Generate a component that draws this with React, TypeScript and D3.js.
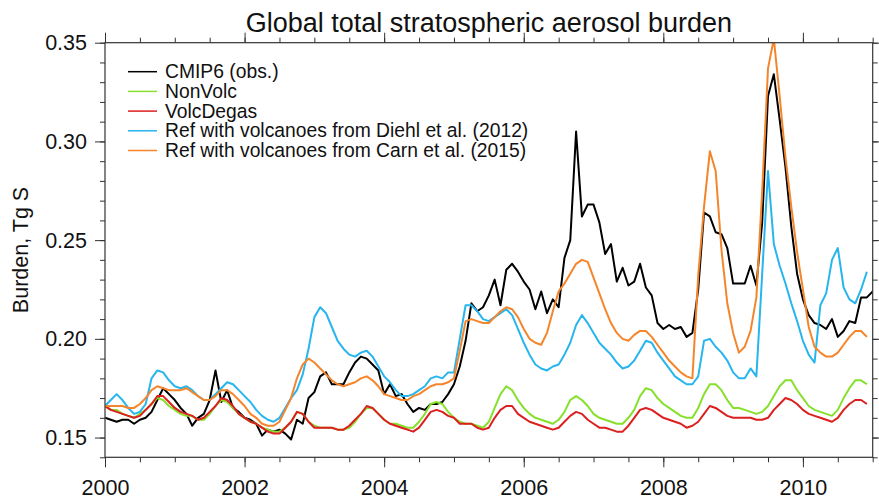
import React, { useEffect, useRef } from 'react';
import * as d3 from 'd3';

// monthly values, Jan 2000 onwards (Tg S)
const cmip6 = [
	0.160, 0.159, 0.158, 0.159, 0.159, 0.157, 0.159, 0.160, 0.163, 0.169, 0.175, 0.172,
	0.169, 0.165, 0.162, 0.156, 0.160, 0.162, 0.169, 0.184, 0.168, 0.174, 0.165, 0.163,
	0.160, 0.159, 0.157, 0.151, 0.154, 0.153, 0.154, 0.152, 0.149, 0.159, 0.157, 0.170,
	0.173, 0.181, 0.183, 0.177, 0.177, 0.177, 0.183, 0.188, 0.191, 0.190, 0.187, 0.184,
	0.172, 0.177, 0.171, 0.172, 0.167, 0.163, 0.165, 0.164, 0.167, 0.167, 0.168, 0.172,
	0.177, 0.186, 0.199, 0.218, 0.214, 0.216, 0.222, 0.230, 0.217, 0.235, 0.238, 0.234,
	0.229, 0.225, 0.215, 0.224, 0.213, 0.220, 0.216, 0.241, 0.250, 0.305, 0.262, 0.268,
	0.268, 0.259, 0.243, 0.248, 0.229, 0.236, 0.227, 0.229, 0.238, 0.226, 0.222, 0.208,
	0.205, 0.207, 0.205, 0.206, 0.201, 0.203, 0.225, 0.264, 0.262, 0.254, 0.253, 0.246,
	0.228, 0.228, 0.228, 0.237, 0.227, 0.259, 0.323, 0.334, 0.311, 0.287, 0.257, 0.233,
	0.220, 0.212, 0.208, 0.207, 0.205, 0.210, 0.201, 0.204, 0.209, 0.208, 0.221, 0.221,
	0.224,
];

const nonVolc = [
	0.166, 0.164, 0.164, 0.162, 0.161, 0.160, 0.162, 0.164, 0.167, 0.170, 0.169, 0.166,
	0.164, 0.162, 0.161, 0.161, 0.159, 0.159, 0.162, 0.166, 0.169, 0.168, 0.165, 0.162,
	0.160, 0.158, 0.157, 0.155, 0.154, 0.153, 0.153, 0.155, 0.158, 0.163, 0.162, 0.158,
	0.156, 0.155, 0.155, 0.155, 0.154, 0.154, 0.155, 0.158, 0.162, 0.165, 0.165, 0.162,
	0.159, 0.157, 0.157, 0.156, 0.155, 0.155, 0.158, 0.162, 0.167, 0.168, 0.167, 0.163,
	0.160, 0.158, 0.157, 0.157, 0.156, 0.155, 0.158, 0.165, 0.172, 0.176, 0.174, 0.169,
	0.165, 0.162, 0.160, 0.159, 0.158, 0.157, 0.159, 0.163, 0.169, 0.171, 0.169, 0.166,
	0.162, 0.160, 0.159, 0.158, 0.157, 0.157, 0.160, 0.164, 0.171, 0.175, 0.174, 0.170,
	0.167, 0.165, 0.163, 0.161, 0.160, 0.160, 0.165, 0.172, 0.177, 0.177, 0.174, 0.169,
	0.165, 0.165, 0.164, 0.163, 0.162, 0.163, 0.166, 0.171, 0.176, 0.179, 0.179, 0.174,
	0.170, 0.166, 0.164, 0.163, 0.162, 0.161, 0.164, 0.170, 0.175, 0.179, 0.179, 0.177,
];

const volcDegas = [
	0.166, 0.164, 0.163, 0.162, 0.161, 0.160, 0.161, 0.164, 0.167, 0.171, 0.171, 0.168,
	0.165, 0.163, 0.162, 0.161, 0.159, 0.160, 0.163, 0.166, 0.170, 0.169, 0.166, 0.162,
	0.160, 0.158, 0.157, 0.155, 0.153, 0.152, 0.152, 0.155, 0.158, 0.163, 0.162, 0.158,
	0.155, 0.155, 0.155, 0.155, 0.154, 0.154, 0.156, 0.159, 0.162, 0.166, 0.165, 0.162,
	0.159, 0.157, 0.156, 0.155, 0.154, 0.153, 0.155, 0.159, 0.163, 0.164, 0.163, 0.161,
	0.160, 0.157, 0.157, 0.157, 0.155, 0.154, 0.155, 0.160, 0.164, 0.166, 0.166, 0.162,
	0.160, 0.158, 0.157, 0.156, 0.155, 0.154, 0.155, 0.158, 0.161, 0.163, 0.162, 0.159,
	0.157, 0.155, 0.155, 0.154, 0.153, 0.153, 0.156, 0.160, 0.164, 0.165, 0.164, 0.162,
	0.160, 0.159, 0.158, 0.157, 0.155, 0.156, 0.158, 0.162, 0.166, 0.165, 0.163, 0.161,
	0.160, 0.160, 0.160, 0.160, 0.159, 0.159, 0.160, 0.164, 0.167, 0.170, 0.169, 0.167,
	0.164, 0.162, 0.161, 0.160, 0.159, 0.158, 0.160, 0.164, 0.167, 0.169, 0.169, 0.167,
];

const refDiehl = [
	0.166, 0.169, 0.172, 0.169, 0.165, 0.162, 0.163, 0.167, 0.180, 0.184, 0.183, 0.179,
	0.176, 0.175, 0.176, 0.174, 0.171, 0.169, 0.169, 0.172, 0.175, 0.178, 0.177, 0.174,
	0.171, 0.168, 0.164, 0.161, 0.159, 0.158, 0.160, 0.165, 0.170, 0.174, 0.182, 0.195,
	0.211, 0.216, 0.213, 0.206, 0.199, 0.195, 0.192, 0.191, 0.193, 0.194, 0.191, 0.186,
	0.181, 0.178, 0.174, 0.171, 0.171, 0.172, 0.174, 0.176, 0.180, 0.181, 0.180, 0.183,
	0.183, 0.200, 0.217, 0.217, 0.214, 0.210, 0.209, 0.211, 0.213, 0.215, 0.212, 0.205,
	0.198, 0.192, 0.187, 0.185, 0.184, 0.186, 0.187, 0.192, 0.198, 0.207, 0.212, 0.208,
	0.203, 0.198, 0.195, 0.192, 0.188, 0.185, 0.186, 0.189, 0.194, 0.199, 0.198, 0.193,
	0.189, 0.185, 0.181, 0.179, 0.177, 0.177, 0.181, 0.199, 0.200, 0.196, 0.193, 0.189,
	0.183, 0.180, 0.180, 0.185, 0.181, 0.233, 0.285, 0.248, 0.237, 0.228, 0.218, 0.209,
	0.199, 0.192, 0.188, 0.217, 0.223, 0.240, 0.246, 0.226, 0.220, 0.218, 0.225, 0.234,
];

const refCarn = [
	0.166, 0.166, 0.166, 0.166, 0.165, 0.165, 0.167, 0.170, 0.174, 0.176, 0.175, 0.174,
	0.174, 0.174, 0.175, 0.173, 0.171, 0.169, 0.169, 0.171, 0.174, 0.174, 0.172, 0.169,
	0.166, 0.162, 0.160, 0.157, 0.156, 0.156, 0.158, 0.164, 0.170, 0.180, 0.187, 0.190,
	0.188, 0.185, 0.182, 0.179, 0.177, 0.176, 0.177, 0.178, 0.180, 0.181, 0.179, 0.176,
	0.172, 0.171, 0.170, 0.169, 0.169, 0.171, 0.172, 0.174, 0.176, 0.177, 0.177, 0.178,
	0.180, 0.194, 0.209, 0.210, 0.209, 0.208, 0.208, 0.211, 0.214, 0.216, 0.215, 0.211,
	0.205, 0.200, 0.198, 0.197, 0.203, 0.214, 0.224, 0.228, 0.233, 0.238, 0.240, 0.239,
	0.231, 0.223, 0.215, 0.208, 0.203, 0.200, 0.199, 0.202, 0.204, 0.204, 0.201, 0.197,
	0.193, 0.189, 0.186, 0.183, 0.181, 0.180, 0.232, 0.267, 0.295, 0.285, 0.245, 0.218,
	0.203, 0.193, 0.196, 0.204, 0.221, 0.275, 0.337, 0.352, 0.323, 0.292, 0.267, 0.244,
	0.225, 0.206, 0.196, 0.193, 0.191, 0.191, 0.193, 0.197, 0.201, 0.204, 0.204, 0.201,
];

const seriesNames = [
	'CMIP6 (obs.)',
	'NonVolc',
	'VolcDegas',
	'Ref with volcanoes from Diehl et al. (2012)',
	'Ref with volcanoes from Carn et al. (2015)',
];
const seriesColors = ['#000000', '#86e02c', '#dc1f1f', '#27b5ee', '#f5852a'];

const startYear = 2000;
const endYear = 2011;
const yearLabels = [2000, 2002, 2004, 2006, 2008, 2010];
const yLabels = [0.15, 0.2, 0.25, 0.3, 0.35];

const width = 879;
const height = 502;
const font = '"Liberation Sans", Arial, Helvetica, sans-serif';

const App = () => {
	const ref = useRef<SVGSVGElement>(null);

	useEffect(() => {
		if (!ref.current) return;
		const svg = d3.select(ref.current);
		svg.selectAll('*').remove();

		const m = { l: 105, r: 872.7, t: 42.7, b: 457.3 };

		const x = d3.scaleLinear().domain([startYear, endYear]).range([m.l, m.r]);
		const y = d3.scaleLinear().domain([0.14, 0.35]).range([m.b, m.t]);

		const series = [cmip6, nonVolc, volcDegas, refDiehl, refCarn];

		svg.append('defs')
			.append('clipPath')
			.attr('id', 'plotclip')
			.append('rect')
			.attr('x', m.l)
			.attr('y', m.t)
			.attr('width', m.r - m.l)
			.attr('height', m.b - m.t);

		const line = d3
			.line<number>()
			.x((d, i) => x(startYear + i / 12))
			.y(d => y(d));

		svg.append('g')
			.attr('clip-path', 'url(#plotclip)')
			.selectAll('path')
			.data(series)
			.join('path')
			.attr('d', d => line(d))
			.attr('fill', 'none')
			.attr('stroke', (d, i) => seriesColors[i])
			.attr('stroke-width', 2)
			.attr('stroke-linejoin', 'round');

		// axes: major + minor ticks, outward on all four sides
		const minorX = d3.range(startYear, endYear + 0.001, 0.5);
		const minorY = d3.range(0.14, 0.3501, 0.01);
		const axisColor = '#333';

		const styleAxis = (g: any) => {
			g.select('.domain').remove();
			g.selectAll('line').attr('stroke', axisColor).attr('stroke-width', 1);
			g.selectAll('text')
				.attr('fill', '#111')
				.style('font-family', font)
				.style('font-size', '21.5px');
		};

		svg.append('g')
			.attr('transform', `translate(0,${m.b})`)
			.call(d3.axisBottom(x).tickValues(minorX).tickSize(5).tickFormat(() => ''))
			.call(styleAxis);
		svg.append('g')
			.attr('transform', `translate(0,${m.b})`)
			.call(d3.axisBottom(x).tickValues(yearLabels).tickSize(10).tickPadding(12).tickFormat(d3.format('d')))
			.call(styleAxis);
		svg.append('g')
			.attr('transform', `translate(0,${m.t})`)
			.call(d3.axisTop(x).tickValues(minorX).tickSize(5).tickFormat(() => ''))
			.call(styleAxis);
		svg.append('g')
			.attr('transform', `translate(0,${m.t})`)
			.call(d3.axisTop(x).tickValues(yearLabels).tickSize(10).tickFormat(() => ''))
			.call(styleAxis);

		svg.append('g')
			.attr('transform', `translate(${m.l},0)`)
			.call(d3.axisLeft(y).tickValues(minorY).tickSize(5).tickFormat(() => ''))
			.call(styleAxis);
		svg.append('g')
			.attr('transform', `translate(${m.l},0)`)
			.call(d3.axisLeft(y).tickValues(yLabels).tickSize(10).tickPadding(8).tickFormat(d3.format('.2f')))
			.call(styleAxis);
		svg.append('g')
			.attr('transform', `translate(${m.r},0)`)
			.call(d3.axisRight(y).tickValues(minorY).tickSize(5).tickFormat(() => ''))
			.call(styleAxis);
		svg.append('g')
			.attr('transform', `translate(${m.r},0)`)
			.call(d3.axisRight(y).tickValues(yLabels).tickSize(10).tickFormat(() => ''))
			.call(styleAxis);

		svg.append('rect')
			.attr('x', m.l)
			.attr('y', m.t)
			.attr('width', m.r - m.l)
			.attr('height', m.b - m.t)
			.attr('fill', 'none')
			.attr('stroke', axisColor)
			.attr('stroke-width', 1.2);

		// title and y axis title
		svg.append('text')
			.attr('x', (m.l + m.r) / 2)
			.attr('y', 31.5)
			.attr('text-anchor', 'middle')
			.style('font-family', font)
			.style('font-size', '27px')
			.attr('fill', '#111')
			.text('Global total stratospheric aerosol burden');

		svg.append('text')
			.attr('transform', `translate(28,${(m.t + m.b) / 2}) rotate(-90)`)
			.attr('text-anchor', 'middle')
			.style('font-family', font)
			.style('font-size', '21.5px')
			.attr('fill', '#111')
			.text('Burden, Tg S');

		// legend
		const legend = svg.append('g').attr('class', 'legend');
		legend
			.selectAll('line')
			.data(seriesNames)
			.join('line')
			.attr('x1', 128)
			.attr('x2', 157)
			.attr('y1', (d, i) => 71.7 + i * 19.7)
			.attr('y2', (d, i) => 71.7 + i * 19.7)
			.attr('stroke', (d, i) => seriesColors[i])
			.attr('stroke-width', 1.5);
		legend
			.selectAll('text')
			.data(seriesNames)
			.join('text')
			.attr('x', 165)
			.attr('y', (d, i) => 71.7 + i * 19.7 + 6.5)
			.style('font-family', font)
			.style('font-size', '19.3px')
			.attr('fill', '#111')
			.text(d => d);
	}, []);

	return (
		<svg
			ref={ref}
			width={width}
			height={height}
			style={{ position: 'absolute', left: 0, top: 0, background: '#fff' }}
		/>
	);
};

export default App;
